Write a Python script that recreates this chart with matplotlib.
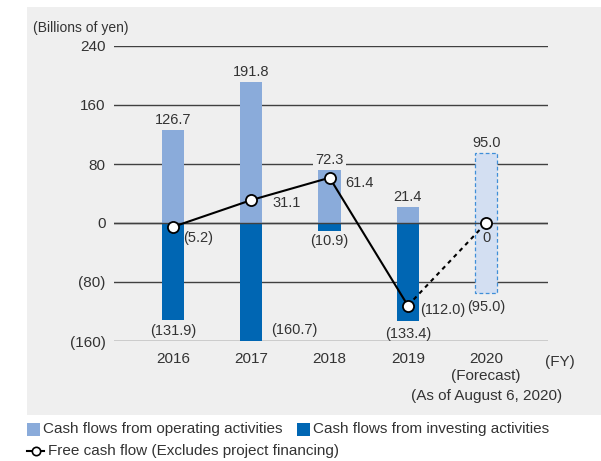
import matplotlib
matplotlib.use("Agg")
import matplotlib.pyplot as plt
from matplotlib.patches import Rectangle
from matplotlib.lines import Line2D

plt.rcParams['font.family'] = ['Liberation Sans', 'DejaVu Sans']

years = ["2016", "2017", "2018", "2019", "2020"]
forecast_note = ["(Forecast)", "(As of August 6, 2020)"]
operating = [126.7, 191.8, 72.3, 21.4, 95.0]
investing = [-131.9, -160.7, -10.9, -133.4, -95.0]
free_cf = [-5.2, 31.1, 61.4, -112.0, 0.0]
yticks = [240, 160, 80, 0, -80, -160]
ytick_labels = ["240", "160", "80", "0", "(80)", "(160)"]

def fmt(v):
    if v < 0:
        return f"({-v:.1f})"
    if v == 0:
        return "0"
    return f"{v:.1f}"

W, H = 601, 461
fig = plt.figure(figsize=(W / 100, H / 100), dpi=100)
fig.patch.set_facecolor("white")
fig.patches.append(Rectangle((27 / W, (H - 415) / H), 1 - 27 / W, (415 - 7) / H,
                             transform=fig.transFigure, facecolor="#efefef",
                             edgecolor="none", zorder=-5))

ax = fig.add_axes([114 / W, (H - 341) / H, (548 - 114) / W, (341 - 46) / H], zorder=1)
ax.set_facecolor("none")
ax.set_xlim(-0.754, 4.79)
ax.set_ylim(-160, 240)
for s in ax.spines.values():
    s.set_visible(False)

for t in yticks:
    ax.axhline(t, color="#404040", lw=1.0, zorder=1)

c_op = "#8aabda"
c_inv = "#0066b3"
c_fc = "#d3dff2"
c_fc_edge = "#3f8fd8"
bw = 0.285
x = list(range(len(years)))

ax.bar(x[:4], operating[:4], width=bw, color=c_op, zorder=2)
ax.bar(x[:4], investing[:4], width=bw, color=c_inv, zorder=2)
ax.bar(x[4], operating[4], width=bw, color=c_fc, edgecolor=c_fc_edge,
       linestyle=(0, (3, 2)), linewidth=0.9, zorder=2)
ax.bar(x[4], investing[4], width=bw, color=c_fc, edgecolor=c_fc_edge,
       linestyle=(0, (3, 2)), linewidth=0.9, zorder=2)
ax.axhline(0, xmin=0, xmax=1, color="#404040", lw=1.0, zorder=2.5)

ax.plot(x[:4], free_cf[:4], color="black", lw=1.5, zorder=4)
ax.plot(x[3:], free_cf[3:], color="black", lw=1.5, ls=(0, (2, 2)), zorder=4)
ax.plot(x, free_cf, ls="none", marker="o", ms=8, mfc="white", mec="black",
        mew=1.3, zorder=5)

fs = 11
lfs = 10.5
tc = "#333333"
# operating labels (above bars)
for i, v in enumerate(operating):
    kw = {}
    if i == 2:
        kw["bbox"] = dict(facecolor="#efefef", edgecolor="none", pad=1.5)
    ax.annotate(fmt(v), (x[i], v), xytext=(0, 2), textcoords="offset points",
                ha="center", va="bottom", fontsize=lfs, color=tc, zorder=6, **kw)
# investing labels
inv_off = [(0, -3, "center", "top"), (14, 8, "left", "center"),
           (0, -2, "center", "top"), (0, -4, "center", "top"),
           (0, -5, "center", "top")]
for i, v in enumerate(investing):
    dx, dy, ha, va = inv_off[i]
    ax.annotate(fmt(v), (x[i], v), xytext=(dx, dy), textcoords="offset points",
                ha=ha, va=va, fontsize=lfs, color=tc, zorder=6, annotation_clip=False)
# free cash flow labels
fcf_off = [(7, -3, "left", "top"), (15, -2, "left", "center"),
           (11, -4, "left", "center"), (9, -3, "left", "center"),
           (0, -6, "center", "top")]
for i, v in enumerate(free_cf):
    dx, dy, ha, va = fcf_off[i]
    kw = {}
    if i in (2, 4):
        kw["bbox"] = dict(facecolor=("#efefef" if i == 2 else c_fc), edgecolor="none", pad=0.5)
    ax.annotate(fmt(v), (x[i], v), xytext=(dx, dy), textcoords="offset points",
                ha=ha, va=va, fontsize=lfs, color=tc, zorder=6, **kw)

ax.set_yticks(yticks)
ax.set_yticklabels(ytick_labels)
ax.set_xticks(x)
ax.set_xticklabels(years)
ax.tick_params(axis="both", length=0, labelsize=fs, labelcolor=tc)
ax.tick_params(axis="y", pad=6)
ax.tick_params(axis="x", pad=8)

for k, note in enumerate(forecast_note):
    ax.annotate(note, (x[4], -160), xytext=(0, -25 - 14.5 * k), textcoords="offset points",
                ha="center", va="center", fontsize=fs, color=tc, annotation_clip=False)

fig.text(33 / W, 1 - 28 / H, "(Billions of yen)", fontsize=10, color=tc,
         ha="left", va="center")
fig.text(560 / W, 1 - 362 / H, "(FY)", fontsize=fs, color=tc,
         ha="center", va="center")

# legend
fig.patches.append(Rectangle((27 / W, 1 - 436 / H), 13 / W, 13 / H,
                             transform=fig.transFigure, facecolor=c_op, edgecolor="none"))
fig.text(43 / W, 1 - 429 / H, "Cash flows from operating activities", fontsize=fs,
         color=tc, ha="left", va="center")
fig.patches.append(Rectangle((297 / W, 1 - 436 / H), 13 / W, 13 / H,
                             transform=fig.transFigure, facecolor=c_inv, edgecolor="none"))
fig.text(313 / W, 1 - 429 / H, "Cash flows from investing activities", fontsize=fs,
         color=tc, ha="left", va="center")
fig.lines.append(Line2D([27 / W, 44 / W], [1 - 451 / H] * 2, transform=fig.transFigure,
                        color="black", lw=1.5, marker=None))
fig.lines.append(Line2D([35.5 / W], [1 - 451 / H], transform=fig.transFigure,
                        color="black", marker="o", ms=6, mfc="white", mec="black", mew=1.2))
fig.text(48 / W, 1 - 451 / H, "Free cash flow (Excludes project financing)", fontsize=fs,
         color=tc, ha="left", va="center")

fig.savefig("out.png", dpi=100)
